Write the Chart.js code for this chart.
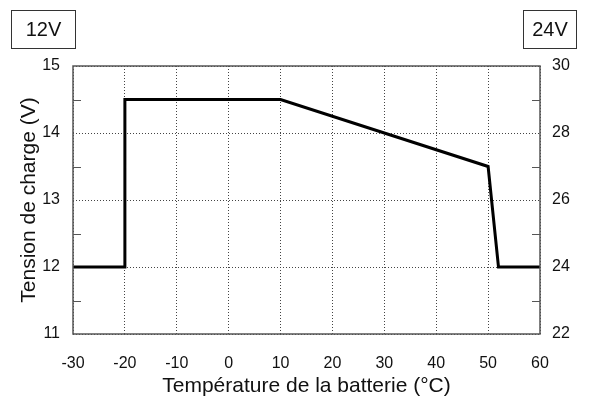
<!DOCTYPE html>
<html>
<head>
<meta charset="utf-8">
<script src="https://cdn.jsdelivr.net/npm/chart.js@4"></script>
<style>
html,body{margin:0;padding:0;background:#fff;}
canvas{display:block;}
</style>
</head>
<body>
<canvas id="c" width="589" height="403"></canvas>
<script>
// Data
const temperatures = [-30, -20, -20, 10, 50, 52, 60];
const voltages12 = [12, 12, 14.5, 14.5, 13.5, 12, 12];
const xTickRange = [-30, 60];
const leftRange = [11, 15];
const rightRange = [22, 30];
const boxLabels = ['12V', '24V'];
const xTitle = 'Température de la batterie (°C)';
const yTitle = 'Tension de charge (V)';

const FONT = '"Liberation Sans", Arial, Helvetica, sans-serif';

const framePlugin = {
  id: 'frame',
  afterDraw(chart) {
    const ctx = chart.ctx;
    const a = chart.chartArea;
    ctx.save();
    // frame
    ctx.strokeStyle = '#555';
    ctx.lineWidth = 1.5;
    ctx.strokeRect(a.left, a.top, a.right - a.left, a.bottom - a.top);
    // minor inward ticks at midpoints between major ticks
    ctx.lineWidth = 1;
    ctx.strokeStyle = '#555';
    const drawMinor = (scale, x0, dir) => {
      const t = scale.ticks.map(k => k.value);
      for (let i = 0; i < t.length - 1; i++) {
        const v = (t[i] + t[i + 1]) / 2;
        const y = Math.round(scale.getPixelForValue(v)) + 0.5;
        ctx.beginPath();
        ctx.moveTo(x0, y);
        ctx.lineTo(x0 + dir * 8, y);
        ctx.stroke();
      }
    };
    drawMinor(chart.scales.y, a.left, 1);
    drawMinor(chart.scales.y2, a.right, -1);
    // voltage boxes
    ctx.strokeStyle = '#333';
    ctx.lineWidth = 1;
    ctx.fillStyle = '#111';
    ctx.font = '20px ' + FONT;
    ctx.textAlign = 'center';
    ctx.textBaseline = 'middle';
    const boxes = [[11.5, 10.5, 64, 38], [523.5, 10.5, 53, 38]];
    boxes.forEach((b, i) => {
      ctx.strokeRect(b[0], b[1], b[2], b[3]);
      ctx.fillText(boxLabels[i], b[0] + b[2] / 2, b[1] + b[3] / 2 + 1);
    });
    ctx.restore();
  }
};

new Chart(document.getElementById('c'), {
  type: 'line',
  data: {
    datasets: [{
      data: temperatures.map((t, i) => ({x: t, y: voltages12[i]})),
      borderColor: '#000',
      borderWidth: 3,
      pointRadius: 0,
      fill: false,
      tension: 0,
      yAxisID: 'y'
    }]
  },
  options: {
    responsive: false,
    animation: false,
    events: [],
    layout: {padding: {top: 66, left: 0, right: 0, bottom: 0}},
    plugins: {legend: {display: false}, tooltip: {enabled: false}},
    scales: {
      x: {
        type: 'linear',
        min: xTickRange[0], max: xTickRange[1],
        ticks: {stepSize: 10, color: '#111', font: {family: FONT, size: 16}, padding: 20, maxRotation: 0},
        grid: {color: '#444', lineWidth: 1, drawTicks: false, tickLength: 0},
        border: {display: false, dash: [1, 2]},
        title: {display: true, text: xTitle, color: '#111', font: {family: FONT, size: 21}, padding: {top: 0, bottom: 4}},
        afterFit(s) { s.height = 69; }
      },
      y: {
        position: 'left',
        min: leftRange[0], max: leftRange[1],
        ticks: {stepSize: 1, color: '#111', font: {family: FONT, size: 16}, padding: 13},
        grid: {color: '#444', lineWidth: 1, drawTicks: false, tickLength: 0},
        border: {display: false, dash: [1, 2]},
        title: {display: true, text: yTitle, color: '#111', font: {family: FONT, size: 21}, padding: {top: 17, bottom: 0}},
        afterFit(s) { s.width = 73; }
      },
      y2: {
        position: 'right',
        min: rightRange[0], max: rightRange[1],
        ticks: {stepSize: 2, color: '#111', font: {family: FONT, size: 16}, padding: 12},
        grid: {display: false, drawTicks: false, tickLength: 0},
        border: {display: false},
        afterFit(s) { s.width = 49; }
      }
    }
  },
  plugins: [framePlugin]
});
</script>
</body>
</html>
